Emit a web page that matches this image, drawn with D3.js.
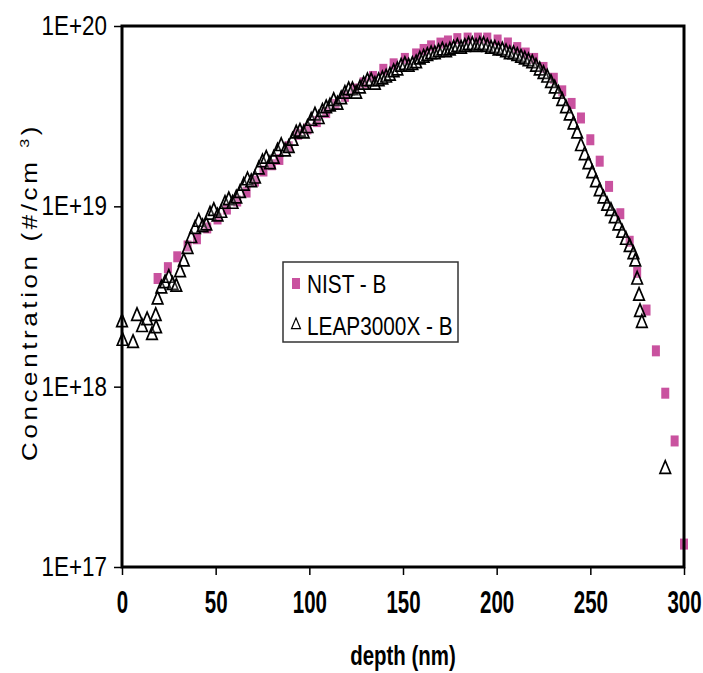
<!DOCTYPE html>
<html>
<head>
<meta charset="utf-8">
<script src="https://cdn.jsdelivr.net/npm/d3@7"></script>
<style>
  body { margin: 0; background: #fff; }
  svg { display: block; font-family: "Liberation Sans", Arial, sans-serif; }
</style>
</head>
<body>
<div id="chart"></div>
<script>
const width = 703;
const height = 673;
const margin = {top: 26, right: 19, bottom: 106, left: 122};

const xTicks = [0, 50, 100, 150, 200, 250, 300];
const yTicks = [1e17, 1e18, 1e19, 1e20];
const yTickLabels = ['1E+17', '1E+18', '1E+19', '1E+20'];
const seriesNames = ['NIST - B', 'LEAP3000X - B'];

// NIST - B (SIMS) profile
const nistDepth = [19, 24.5, 29.5, 35, 40, 45.5, 51, 56, 61.5, 66.5,
    71, 75.5, 80, 84, 89, 94, 99, 104, 109, 114,
    119, 124, 129, 134, 139.5, 145, 151, 157, 161, 165,
    170, 174, 179, 184.5, 190, 195, 200.5, 206, 211, 215.5,
    220, 225, 230.5, 235, 240, 245, 250, 255, 260, 266,
    271, 275, 280, 285, 290, 295, 300];
const nistConc = [3.98e18, 4.57e18, 5.25e18, 6.03e18, 6.61e18, 7.59e18, 8.51e18, 9.66e18, 1.07e19, 1.20e19,
    1.38e19, 1.57e19, 1.70e19, 1.82e19, 2.14e19, 2.51e19, 2.69e19, 2.95e19, 3.31e19, 3.67e19,
    4.07e19, 4.47e19, 4.84e19, 5.25e19, 5.75e19, 6.17e19, 6.61e19, 7.00e19, 7.41e19, 7.76e19,
    8.04e19, 8.26e19, 8.51e19, 8.57e19, 8.57e19, 8.57e19, 8.36e19, 8.05e19, 7.59e19, 7.08e19,
    6.61e19, 5.89e19, 5.13e19, 4.37e19, 3.72e19, 3.09e19, 2.34e19, 1.78e19, 1.29e19, 9.1e18,
    6.4e18, 4.3e18, 2.66e18, 1.58e18, 9.2e17, 5.0e17, 1.34e17];

// LEAP3000X - B (atom probe) profile
const leapDepth = [0, 0.3, 5.9, 8, 10.7, 13.4, 16, 18, 18.2,
    19, 21, 23, 25, 27, 29, 31, 33, 35, 37,
    39, 41, 43, 45, 47, 49, 51, 53, 55, 57,
    59, 61, 63, 65, 67, 69, 71, 73, 75, 77,
    79, 81, 83, 85, 87, 89, 91, 93, 95, 97,
    99, 101, 103, 105, 107, 109, 111, 113, 115, 117,
    119, 121, 123, 125, 127, 129, 131, 133, 135, 137,
    139, 141, 143, 145, 147, 149, 151, 153, 155, 157,
    159, 161, 163, 165, 167, 169, 171, 173, 175, 177,
    179, 181, 183, 185, 187, 189, 191, 193, 195, 197,
    199, 201, 203, 205, 207, 209, 211, 213, 215, 217,
    219, 221, 223, 225, 227, 229, 231, 233, 235, 237,
    239, 241, 243, 245, 247, 249, 251, 253, 255, 257,
    259, 261, 263, 265, 267, 269, 271, 273, 274, 275,
    276, 276.5, 277.5, 290];
const leapConc = [2.31e18, 1.82e18, 1.77e18, 2.50e18, 2.17e18, 2.37e18, 1.96e18, 2.50e18, 2.14e18,
    3.09e18, 3.55e18, 3.80e18, 4.07e18, 3.72e18, 3.63e18, 4.37e18, 5.01e18, 5.89e18, 6.76e18,
    7.59e18, 8.32e18, 7.76e18, 7.94e18, 9.12e18, 9.55e18, 8.91e18, 9.33e18, 1.047e19, 1.096e19,
    1.047e19, 1.122e19, 1.202e19, 1.318e19, 1.413e19, 1.380e19, 1.445e19, 1.622e19, 1.778e19, 1.862e19,
    1.738e19, 1.862e19, 2.042e19, 2.188e19, 2.042e19, 2.138e19, 2.344e19, 2.570e19, 2.630e19, 2.570e19,
    2.754e19, 3.020e19, 3.236e19, 3.090e19, 3.388e19, 3.548e19, 3.631e19, 3.890e19, 3.715e19, 3.981e19,
    4.266e19, 4.467e19, 4.467e19, 4.266e19, 4.571e19, 4.786e19, 5.012e19, 5.012e19, 4.786e19, 5.012e19,
    5.129e19, 5.248e19, 5.370e19, 5.623e19, 5.754e19, 6.026e19, 6.166e19, 6.026e19, 6.166e19, 6.310e19,
    6.607e19, 6.761e19, 6.918e19, 7.079e19, 7.079e19, 7.244e19, 7.413e19, 7.244e19, 7.413e19, 7.586e19,
    7.762e19, 7.586e19, 7.762e19, 7.943e19, 7.943e19, 7.762e19, 7.943e19, 7.943e19, 7.762e19, 7.586e19,
    7.586e19, 7.413e19, 7.413e19, 7.244e19, 7.079e19, 7.079e19, 6.918e19, 6.761e19, 6.607e19, 6.457e19,
    6.310e19, 6.026e19, 5.754e19, 5.495e19, 5.248e19, 4.898e19, 4.571e19, 4.266e19, 3.890e19, 3.548e19,
    3.236e19, 2.884e19, 2.570e19, 2.188e19, 1.950e19, 1.738e19, 1.549e19, 1.380e19, 1.230e19, 1.122e19,
    1.023e19, 9.55e18, 8.71e18, 7.94e18, 7.24e18, 6.61e18, 6.03e18, 5.50e18, 5.01e18, 3.98e18,
    3.24e18, 2.63e18, 2.29e18, 3.55e17];

const pink = '#c9529f';
const triPath = 'M0,-7L5.3,5.5L-5.3,5.5Z';

// the original figure is horizontally squeezed, so text is narrowed to match
function squish(sel, k) {
    sel.each(function() {
        const x0 = +this.getAttribute('x') || 0;
        d3.select(this).attr('transform', `translate(${x0 * (1 - k)},0) scale(${k},1)`);
    });
}

const innerW = width - margin.left - margin.right;
const innerH = height - margin.top - margin.bottom;

const svg = d3.select('#chart')
    .append('svg')
    .attr('width', width)
    .attr('height', height);

const x = d3.scaleLinear().domain([0, 300]).range([margin.left, margin.left + innerW]);
const y = d3.scaleLog().domain([1e17, 1e20]).range([margin.top + innerH, margin.top]);

// axes
const xAxis = svg.append('g')
    .attr('transform', `translate(0,${margin.top + innerH})`)
    .call(d3.axisBottom(x).tickValues(xTicks).tickSize(8).tickPadding(15).tickFormat(d3.format('d')));
xAxis.select('.domain').remove();
xAxis.selectAll('.tick line').attr('stroke', '#000').attr('stroke-width', 1.5);
xAxis.selectAll('text')
    .attr('fill', '#000')
    .style('font-size', '32px')
    .style('font-weight', 'bold')
    .call(squish, 0.64);

const yAxis = svg.append('g')
    .attr('transform', `translate(${margin.left},0)`)
    .call(d3.axisLeft(y).tickValues(yTicks).tickSize(8).tickPadding(7)
        .tickFormat((d, i) => yTickLabels[i]));
yAxis.select('.domain').remove();
yAxis.selectAll('.tick line').attr('stroke', '#000').attr('stroke-width', 1.5);
yAxis.selectAll('text')
    .attr('fill', '#000')
    .style('font-size', '27px')
    .call(squish, 0.83);

// data
svg.append('g')
    .selectAll('rect')
    .data(nistDepth)
    .enter()
    .append('rect')
    .attr('x', d => x(d) - 4)
    .attr('y', (d, i) => y(nistConc[i]) - 5.5)
    .attr('width', 8)
    .attr('height', 11)
    .attr('fill', pink);

svg.append('g')
    .selectAll('path')
    .data(leapDepth)
    .enter()
    .append('path')
    .attr('d', triPath)
    .attr('transform', (d, i) => `translate(${x(d)},${y(leapConc[i])})`)
    .attr('fill', '#fff')
    .attr('fill-opacity', 0.2)
    .attr('stroke', '#000')
    .attr('stroke-width', 1.7);

// plot frame
svg.append('rect')
    .attr('x', margin.left)
    .attr('y', margin.top)
    .attr('width', innerW)
    .attr('height', innerH)
    .attr('fill', 'none')
    .attr('stroke', '#000')
    .attr('stroke-width', 3);

// axis titles
svg.append('text')
    .attr('x', margin.left + innerW / 2)
    .attr('y', 665)
    .attr('text-anchor', 'middle')
    .style('font-size', '28px')
    .style('font-weight', 'bold')
    .text('depth (nm)')
    .call(squish, 0.73);

const yTitle = svg.append('text')
    .attr('transform', 'translate(37,292) scale(0.85,1) rotate(-90)')
    .attr('text-anchor', 'middle')
    .style('font-size', '26px')
    .style('letter-spacing', '3.6px');
yTitle.append('tspan').text('Concentration (#/cm ');
yTitle.append('tspan').attr('dy', -9).style('font-size', '16px').text('3');
yTitle.append('tspan').attr('dy', 9).text(')');

// legend
const legend = svg.append('g').attr('transform', 'translate(283,262)');
legend.append('rect')
    .attr('width', 175)
    .attr('height', 80)
    .attr('fill', '#fff')
    .attr('stroke', '#333')
    .attr('stroke-width', 1.5);
legend.append('rect')
    .attr('x', 9)
    .attr('y', 16)
    .attr('width', 8)
    .attr('height', 11)
    .attr('fill', pink);
legend.append('path')
    .attr('d', triPath)
    .attr('transform', 'translate(13,62) scale(0.85)')
    .attr('fill', '#fff')
    .attr('stroke', '#000')
    .attr('stroke-width', 1.4);
legend.selectAll('text.lbl')
    .data(seriesNames)
    .enter()
    .append('text')
    .attr('class', 'lbl')
    .attr('x', 24)
    .attr('y', (d, i) => 31 + i * 42)
    .style('font-size', '26px')
    .text(d => d)
    .call(squish, 0.8);
</script>
</body>
</html>
